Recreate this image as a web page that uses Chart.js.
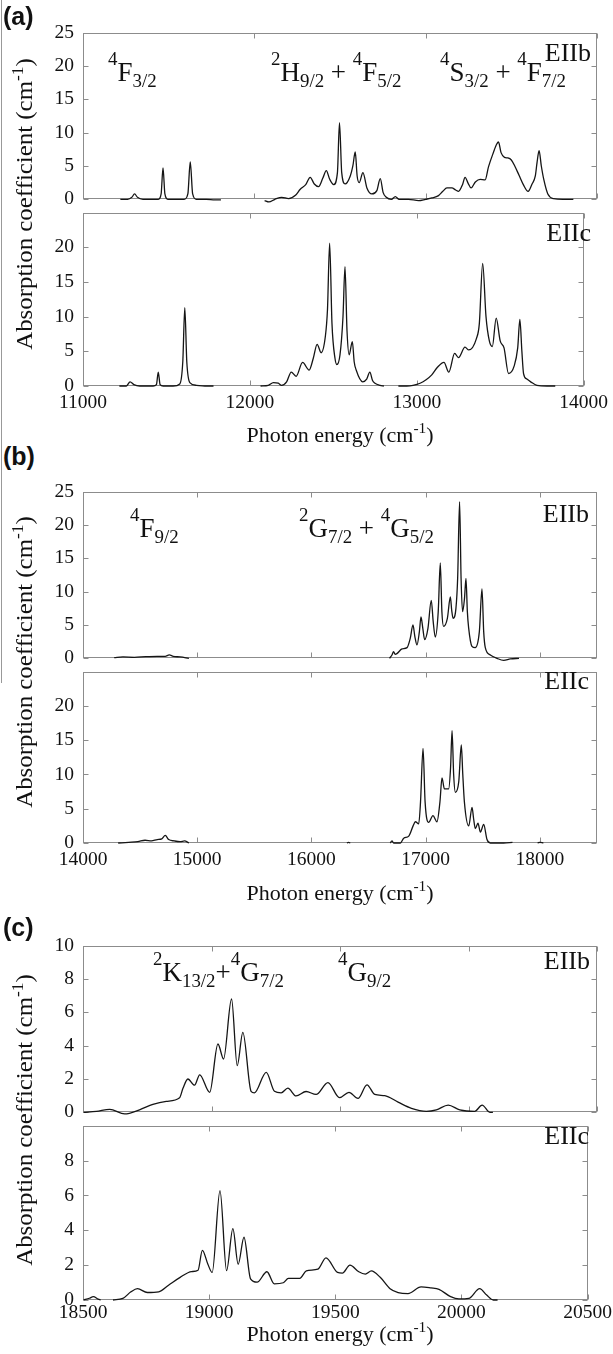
<!DOCTYPE html>
<html>
<head>
<meta charset="utf-8">
<script src="https://cdn.jsdelivr.net/npm/chart.js@4.4.1/dist/chart.umd.min.js"></script>
<style>
  body { margin: 0; background: #fff; }
  #page { position: relative; width: 613px; height: 1354px; overflow: hidden;
          font-family: "Liberation Serif", "Times New Roman", serif; color: #111; }
  canvas { position: absolute; left: 0; }
  .t { position: absolute; white-space: nowrap; font-size: 27px; line-height: 1; }
  .t sup { font-size: 70%; vertical-align: 0.85em; line-height: 0; }
  .t sub { font-size: 70%; vertical-align: -0.3em; line-height: 0; }
  .r { text-align: right; font-size: 26px; }
  .lab { position: absolute; font-family: "Liberation Sans", Arial, sans-serif; font-weight: bold;
         font-size: 25px; line-height: 1; }
  .xt { position: absolute; left: 340px; transform: translateX(-50%); font-size: 22px; line-height: 1; white-space: nowrap; }
  .yt { position: absolute; left: 25px; transform: translate(-50%, -50%) rotate(-90deg) scale(1.13, 1.05); font-size: 22px;
        line-height: 1; white-space: nowrap; }
  .xt sup, .yt sup { font-size: 70%; vertical-align: 0.6em; line-height: 0; }
</style>
</head>
<body>
<div id="page">
  <div style="position:absolute;left:1px;top:0;width:1px;height:683px;background:#999"></div>

  <canvas id="a1"></canvas><canvas id="a2"></canvas>
  <canvas id="b1"></canvas><canvas id="b2"></canvas>
  <canvas id="c1"></canvas><canvas id="c2"></canvas>

  <div class="lab" style="left:3px;top:4px">(a)</div>
  <div class="lab" style="left:3px;top:444px">(b)</div>
  <div class="lab" style="left:3px;top:915px">(c)</div>

  <div class="t" style="left:108px;top:59px"><sup>4</sup>F<sub>3/2</sub></div>
  <div class="t" style="left:271px;top:59px"><sup>2</sup>H<sub>9/2</sub> + <sup>4</sup>F<sub>5/2</sub></div>
  <div class="t" style="left:440px;top:59px"><sup>4</sup>S<sub>3/2</sub> + <sup>4</sup>F<sub>7/2</sub></div>
  <div class="t r" style="right:22px;top:40px">EIIb</div>
  <div class="t r" style="right:22px;top:220px">EIIc</div>

  <div class="t" style="left:130px;top:515px"><sup>4</sup>F<sub>9/2</sub></div>
  <div class="t" style="left:299px;top:515px"><sup>2</sup>G<sub>7/2</sub> + <sup>4</sup>G<sub>5/2</sub></div>
  <div class="t r" style="right:24px;top:501px">EIIb</div>
  <div class="t r" style="right:24px;top:668px">EIIc</div>

  <div class="t" style="left:153px;top:959px"><sup>2</sup>K<sub>13/2</sub>+<sup>4</sup>G<sub>7/2</sub></div>
  <div class="t" style="left:338px;top:959px"><sup>4</sup>G<sub>9/2</sub></div>
  <div class="t r" style="right:23px;top:948px">EIIb</div>
  <div class="t r" style="right:24px;top:1123px">EIIc</div>

  <div class="xt" style="top:424px">Photon energy (cm<sup>-1</sup>)</div>
  <div class="xt" style="top:882px">Photon energy (cm<sup>-1</sup>)</div>
  <div class="xt" style="top:1323px">Photon energy (cm<sup>-1</sup>)</div>

  <div class="yt" style="top:204px">Absorption coefficient (cm<sup>-1</sup>)</div>
  <div class="yt" style="top:662px">Absorption coefficient (cm<sup>-1</sup>)</div>
  <div class="yt" style="top:1120px">Absorption coefficient (cm<sup>-1</sup>)</div>
</div>

<script>
// ---- data (photon energy in cm-1, absorption coefficient in cm-1) ----
// panel (a)
const aX_EIIb = [11218, 11260, 11285, 11301, 11318, 11350, 11400, 11440, 11456, 11467, 11478, 11495, 11540, 11590, 11612, 11626, 11640, 11662, 11720, 11770, 11805, 11930, 12060, 12085, 12120, 12160, 12200, 12240, 12268, 12300, 12326, 12350, 12375, 12400, 12420, 12440, 12463, 12485, 12497, 12510, 12530, 12560, 12575, 12589, 12600, 12612, 12634, 12657, 12686, 12715, 12735, 12752, 12770, 12800, 12823, 12845, 12900, 12959, 13000, 13036, 13075, 13100, 13124, 13153, 13175, 13192, 13215, 13230, 13248, 13265, 13290, 13318, 13347, 13367, 13395, 13415, 13425, 13440, 13460, 13480, 13500, 13520, 13545, 13570, 13598, 13621, 13640, 13650, 13662, 13675, 13690, 13713, 13747, 13800, 13862];
const aY_EIIb = [0, 0, 0.3, 0.8, 0.3, 0, 0, 0, 0.8, 4.7, 0.8, 0, 0, 0, 0.8, 5.6, 0.8, 0, 0, -0.1, -0.1, null, -0.2, -0.4, 0, 0.3, 0.1, 0.6, 1.5, 2.2, 3.3, 2.3, 1.9, 3.2, 4.3, 3.0, 2.2, 4.0, 11.5, 4.0, 2.3, 3.5, 5.0, 7.1, 3.5, 2.5, 4.0, 1.7, 0.8, 1.3, 3.1, 1.0, 0.3, 0, 0.4, 0, 0, -0.2, 0, 0.2, 0.55, 1.2, 1.7, 1.7, 1.4, 1.2, 2.2, 3.3, 2.4, 1.7, 2.6, 3.0, 2.9, 4.9, 7.0, 8.3, 8.6, 7.0, 6.3, 6.2, 5.9, 5.0, 3.6, 2.2, 1.2, 2.3, 3.5, 5.5, 7.3, 5.0, 2.9, 0.8, 0.1, 0, 0];
const aX_EIIc = [11218, 11260, 11282, 11305, 11340, 11420, 11440, 11451, 11462, 11480, 11540, 11580, 11598, 11610, 11622, 11640, 11680, 11730, 11782, 11920, 12064, 12110, 12141, 12170, 12190, 12220, 12248, 12277, 12316, 12355, 12380, 12403, 12427, 12452, 12465, 12478, 12492, 12510, 12521, 12540, 12558, 12570, 12582, 12595, 12614, 12625, 12637, 12676, 12700, 12719, 12735, 12750, 12780, 12803, 12845, 12890, 12940, 12978, 13020, 13056, 13090, 13124, 13163, 13192, 13227, 13250, 13289, 13312, 13357, 13375, 13395, 13415, 13435, 13453, 13476, 13500, 13523, 13550, 13584, 13605, 13618, 13630, 13640, 13660, 13683, 13720, 13780, 13830];
const aY_EIIc = [0, 0, 0.6, 0.2, 0, 0, 0.2, 2.0, 0.2, 0, 0, 0.3, 3.5, 11.3, 3.5, 0.5, 0.1, 0, 0, null, 0, 0.1, 0.5, 0.4, 0.1, 0.6, 2.0, 1.4, 3.4, 2.3, 4.0, 6.0, 4.8, 7.1, 11, 20.6, 9, 4, 3.1, 4.5, 10, 17.2, 8, 4.5, 6.4, 3.5, 2.3, 0.6, 1.0, 2.0, 0.8, 0.4, 0.1, 0, null, 0, 0, 0.1, 0.4, 0.9, 1.6, 2.7, 3.4, 2.0, 4.7, 4.1, 5.6, 5.2, 6.8, 9, 17.7, 10, 6.5, 5.7, 9.8, 6.5, 5.5, 1.8, 2.9, 5.5, 9.6, 5, 1.8, 1.0, 0.6, 0.1, 0, 0];
// panel (b)
const bX_EIIb = [14273, 14350, 14450, 14550, 14650, 14720, 14755, 14790, 14850, 14927, 15500, 16684, 16705, 16719, 16733, 16748, 16793, 16837, 16865, 16889, 16905, 16924, 16945, 16959, 16975, 16991, 17020, 17049, 17066, 17084, 17110, 17128, 17142, 17157, 17190, 17216, 17228, 17240, 17265, 17280, 17297, 17310, 17323, 17340, 17353, 17365, 17376, 17405, 17434, 17470, 17493, 17508, 17522, 17566, 17624, 17683, 17741, 17817];
const bY_EIIb = [0.1, 0.2, 0.15, 0.25, 0.3, 0.3, 0.5, 0.3, 0.2, 0, null, 0, 0.5, 1.0, 0.6, 0.7, 1.4, 1.6, 3, 5.0, 3.3, 2.0, 4, 6.2, 4.5, 2.8, 4.5, 8.7, 5.5, 3.2, 7, 14.3, 7, 4.8, 6, 9.2, 7.2, 6.0, 7.5, 12, 23.5, 12, 7.0, 9, 12.0, 7, 4.6, 1.8, 1.6, 4, 10.4, 4, 1.6, 0.5, 0, -0.3, -0.1, 0];
const bX_EIIc = [14308, 14400, 14480, 14543, 14600, 14650, 14690, 14720, 14750, 14800, 14850, 14889, 14927, 15600, 16310, 16325, 16340, 16500, 16690, 16705, 16720, 16750, 16779, 16808, 16852, 16890, 16910, 16939, 16955, 16977, 16995, 17026, 17064, 17099, 17125, 17143, 17164, 17201, 17218, 17231, 17245, 17260, 17290, 17312, 17325, 17339, 17377, 17406, 17420, 17435, 17458, 17479, 17508, 17537, 17566, 17683, 17760, 17850, 17980, 18000, 18030];
const bY_EIIc = [0, 0.1, 0.2, 0.4, 0.3, 0.5, 0.6, 1.1, 0.5, 0.3, 0.2, 0.3, 0, null, 0, 0.1, 0, null, 0, 0.3, 0, 0, 0, 0.7, 1.0, 2.5, 3.1, 2.8, 6, 13.8, 6, 3.0, 4.0, 3.1, 6, 9.5, 7.9, 7.9, 11, 16.4, 10, 7.4, 9, 14.3, 10, 6.0, 2.5, 5.2, 3.5, 2.1, 2.9, 1.6, 2.7, 0.5, 0, 0, 0.1, null, 0, 0.1, 0];
// panel (c)
const cX_EIIb = [18502, 18552, 18604, 18662, 18720, 18772, 18824, 18876, 18889, 18908, 18934, 18954, 18993, 19025, 19047, 19078, 19100, 19122, 19154, 19167, 19213, 19245, 19271, 19297, 19329, 19368, 19407, 19453, 19498, 19535, 19570, 19605, 19635, 19674, 19726, 19778, 19836, 19875, 19921, 19966, 20024, 20053, 20083, 20095];
const cY_EIIb = [0, 0.05, 0.18, -0.1, 0.15, 0.48, 0.66, 0.88, 1.44, 2.0, 1.63, 2.25, 1.2, 4.1, 3.2, 6.8, 2.8, 4.8, 1.26, 1.17, 2.4, 1.26, 1.17, 1.45, 0.98, 1.25, 1.07, 1.78, 0.88, 1.2, 0.83, 1.65, 1.07, 1.0, 0.61, 0.24, 0.06, 0.15, 0.43, 0.15, 0.06, 0.43, 0, 0];
const cX_EIIc = [18502, 18525, 18541, 18560, 18570, 18590, 18619, 18658, 18690, 18716, 18755, 18800, 18839, 18885, 18930, 18956, 18973, 18995, 19012, 19043, 19069, 19094, 19115, 19138, 19164, 19190, 19229, 19258, 19294, 19314, 19359, 19385, 19431, 19463, 19509, 19528, 19558, 19593, 19619, 19643, 19678, 19717, 19749, 19788, 19840, 19879, 19911, 19957, 19990, 20029, 20072, 20100, 20126, 20143];
const cY_EIIc = [0, 0.1, 0.19, 0.05, 0, null, 0, 0.09, 0.47, 0.65, 0.43, 0.47, 0.85, 1.3, 1.63, 1.71, 2.85, 2.05, 1.58, 6.28, 1.68, 4.09, 2.05, 3.6, 1.21, 1.02, 1.62, 0.93, 0.99, 1.24, 1.24, 1.67, 1.77, 2.42, 1.58, 1.54, 2.0, 1.62, 1.49, 1.67, 1.3, 0.65, 0.43, 0.37, 0.75, 0.69, 0.61, 0.19, 0.06, 0.09, 0.65, 0.28, 0, 0];

// tick values
const aXTicks = [11000, 12000, 13000, 14000];
const bXTicks = [14000, 15000, 16000, 17000, 18000];
const cXTicks = [18500, 19000, 19500, 20000, 20500];
const abYTicksTop = [0, 5, 10, 15, 20, 25];
const abYTicksBottom = [0, 5, 10, 15, 20];
const cYTicksTop = [0, 2, 4, 6, 8, 10];
const cYTicksBottom = [0, 2, 4, 6, 8];

const SERIF = '"Liberation Serif", "Times New Roman", serif';
Chart.defaults.font.family = SERIF;
Chart.defaults.color = '#111';

// gray box with inward tick marks on all four sides
const framePlugin = {
  id: 'frame',
  beforeDatasetsDraw(chart, args, opts) {
    const { ctx, chartArea: a } = chart;
    const x = chart.scales.x, y = chart.scales.y;
    ctx.save();
    ctx.strokeStyle = '#8c8c8c';
    ctx.lineWidth = 1;
    const L = Math.round(a.left) + 0.5, R = Math.round(a.right) - 0.5;
    const T = Math.round(a.top) + 0.5, B = Math.round(a.bottom) - 0.5;
    ctx.strokeRect(L, T, R - L, B - T);
    ctx.beginPath();
    opts.xt.forEach(v => {
      const p = Math.round(x.getPixelForValue(v)) + 0.5;
      ctx.moveTo(p, T); ctx.lineTo(p, T + 5);
      ctx.moveTo(p, B); ctx.lineTo(p, B - 5);
    });
    opts.yt.forEach(v => {
      const p = Math.round(y.getPixelForValue(v)) + 0.5;
      ctx.moveTo(L, p); ctx.lineTo(L + 5, p);
      ctx.moveTo(R, p); ctx.lineTo(R - 5, p);
    });
    ctx.stroke();
    ctx.restore();
  }
};

function pts(xs, ys) { return xs.map((v, i) => ({ x: v, y: ys[i] })); }

function makePlot(id, top, bottom, xs, ys, xr, yr, xTicks, yTicks, yLabels, showX, xPad) {
  const PT = 14, XH = 30;
  const PB = showX ? 10 : 14;
  const h = (bottom - top) + PT + PB + (showX ? XH : 0);
  const cv = document.getElementById(id);
  cv.width = 613; cv.height = h;
  cv.style.top = (top - PT) + 'px';
  cv.style.width = '613px'; cv.style.height = h + 'px';
  return new Chart(cv.getContext('2d'), {
    type: 'line',
    data: {
      datasets: [{
        data: pts(xs, ys),
        borderColor: '#151515',
        borderWidth: 1.3,
        pointRadius: 0,
        cubicInterpolationMode: 'monotone',
        spanGaps: false,
        clip: 4
      }]
    },
    options: {
      responsive: false,
      animation: false,
      events: [],
      layout: { padding: { top: PT, right: 16, bottom: PB, left: 0 }, autoPadding: false },
      plugins: { legend: { display: false }, tooltip: { enabled: false }, frame: { xt: xTicks, yt: yTicks } },
      scales: {
        x: {
          type: 'linear', min: xr[0], max: xr[1], display: showX,
          afterFit: s => { s.height = showX ? XH : 0; },
          afterBuildTicks: s => { s.ticks = xTicks.map(v => ({ value: v })); },
          grid: { display: false, drawTicks: false },
          border: { display: false },
          ticks: { padding: xPad, maxRotation: 0, autoSkip: false, font: { size: 19.5 }, callback: v => String(v) }
        },
        y: {
          type: 'linear', min: yr[0], max: yr[1],
          afterFit: s => { s.width = 83; },
          afterBuildTicks: s => { s.ticks = yLabels.map(v => ({ value: v })); },
          grid: { display: false, drawTicks: false },
          border: { display: false },
          ticks: { padding: 9, autoSkip: false, font: { size: 19.5 }, callback: v => String(v) }
        }
      }
    },
    plugins: [framePlugin]
  });
}

makePlot('a1', 26, 206, aX_EIIb, aY_EIIb, [11000, 14000], [0, 25], aXTicks, abYTicksTop, abYTicksTop, false, 0);
makePlot('a2', 206, 386, aX_EIIc, aY_EIIc, [11000, 14000], [0, 25], aXTicks, abYTicksTop, abYTicksBottom, true, 5);
makePlot('b1', 485, 665, bX_EIIb, bY_EIIb, [14000, 18500], [0, 25], bXTicks, abYTicksTop, abYTicksTop, false, 0);
makePlot('b2', 665, 843, bX_EIIc, bY_EIIc, [14000, 18500], [0, 25], bXTicks, abYTicksTop, abYTicksBottom, true, 5);
makePlot('c1', 939, 1119, cX_EIIb, cY_EIIb, [18500, 20500], [0, 10], cXTicks, cYTicksTop, cYTicksTop, false, 0);
makePlot('c2', 1119, 1300, cX_EIIc, cY_EIIc, [18500, 20500], [0, 10], cXTicks, cYTicksTop, cYTicksBottom, true, 1);
</script>
</body>
</html>
